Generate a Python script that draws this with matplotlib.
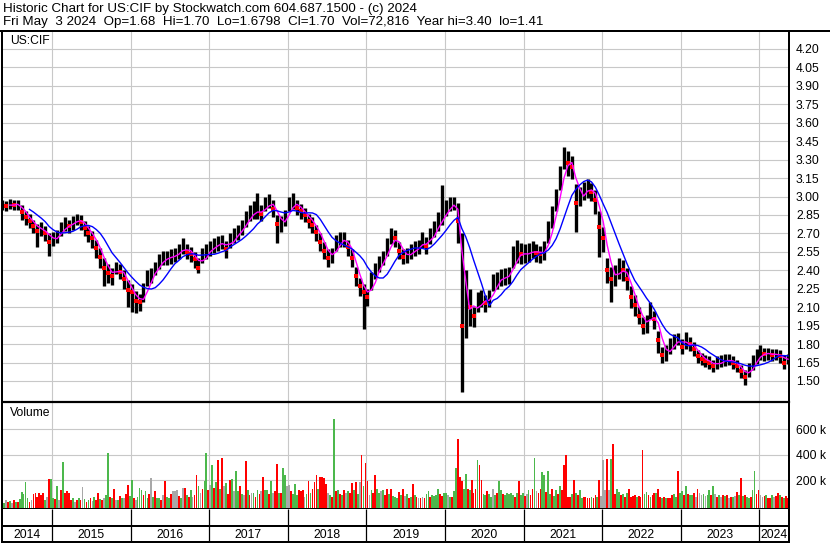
import numpy as np
import pandas as pd
import matplotlib
matplotlib.use("Agg")
import matplotlib.pyplot as plt

# ── canvas / palette ───────────────────────────────────────────────────────────
W, H     = 830, 543
FS       = 8.7
FS_HEAD  = 9.6
GRID_COL = "#c8c8c8"
C_BAR    = "#000000"
C_CLOSE  = "#ff0000"
C_MA_S   = "#ff00ff"
C_MA_L   = "#0000ff"
VOL_COL  = {"r": "#ff0000", "g": "#4cb84c", "n": "#a8a8a8"}

plt.rcParams["font.family"] = ["Liberation Sans", "DejaVu Sans"]

# ── data (semi-monthly price samples, 40 volume bars per year) ───────────────
T0    = 2014.364     # first sample, fractional year
STEP  = 0.05
VSTEP = 0.025
X_LO, X_HI = 2014.364, 2024.377

close = [2.93, 2.92, 2.94, 2.93, 2.94, 2.87, 2.83, 2.80, 2.76, 2.72, 2.74, 2.70, 2.63, 2.66, 2.68, 2.74, 2.77, 2.76, 2.79, 2.83,
         2.79, 2.74, 2.70, 2.66, 2.58, 2.51, 2.42, 2.38, 2.35, 2.43, 2.39, 2.33, 2.24, 2.22, 2.15, 2.14, 2.20, 2.34, 2.36, 2.42,
         2.47, 2.50, 2.50, 2.51, 2.53, 2.55, 2.60, 2.55, 2.53, 2.49, 2.42, 2.52, 2.55, 2.58, 2.60, 2.62, 2.63, 2.57, 2.64, 2.68,
         2.71, 2.75, 2.81, 2.86, 2.88, 2.88, 2.86, 2.94, 2.97, 2.90, 2.78, 2.78, 2.82, 2.94, 2.96, 2.91, 2.88, 2.85, 2.80, 2.77,
         2.71, 2.63, 2.56, 2.50, 2.52, 2.63, 2.65, 2.65, 2.59, 2.50, 2.35, 2.27, 2.22, 2.18, 2.32, 2.40, 2.46, 2.50, 2.59, 2.68,
         2.66, 2.56, 2.51, 2.52, 2.55, 2.58, 2.59, 2.65, 2.60, 2.68, 2.74, 2.80, 2.84, 2.90, 2.94, 2.95, 2.80, 1.95, 2.20, 2.10,
         2.03, 2.15, 2.17, 2.13, 2.17, 2.30, 2.32, 2.34, 2.35, 2.36, 2.50, 2.54, 2.53, 2.53, 2.54, 2.57, 2.54, 2.53, 2.56, 2.72,
         2.83, 2.97, 3.16, 3.32, 3.27, 3.24, 2.95, 3.01, 3.05, 3.07, 3.04, 2.97, 2.75, 2.66, 2.40, 2.33, 2.36, 2.42, 2.40, 2.33,
         2.18, 2.12, 2.03, 1.95, 1.96, 2.08, 2.00, 1.83, 1.71, 1.73, 1.78, 1.82, 1.85, 1.78, 1.82, 1.80, 1.76, 1.70, 1.68, 1.66,
         1.65, 1.62, 1.65, 1.66, 1.67, 1.67, 1.65, 1.62, 1.58, 1.53, 1.59, 1.65, 1.70, 1.73, 1.72, 1.72, 1.71, 1.72, 1.70, 1.65, 1.68]

hi = [2.97, 2.96, 2.98, 2.97, 2.97, 2.93, 2.88, 2.86, 2.81, 2.78, 2.79, 2.76, 2.70, 2.71, 2.73, 2.79, 2.83, 2.81, 2.84, 2.86,
      2.85, 2.80, 2.76, 2.72, 2.65, 2.58, 2.50, 2.45, 2.42, 2.47, 2.45, 2.40, 2.32, 2.29, 2.23, 2.21, 2.30, 2.40, 2.42, 2.47,
      2.53, 2.56, 2.56, 2.57, 2.58, 2.61, 2.66, 2.61, 2.59, 2.55, 2.50, 2.58, 2.61, 2.64, 2.66, 2.68, 2.69, 2.64, 2.70, 2.74,
      2.77, 2.81, 2.88, 2.93, 2.96, 3.03, 2.93, 3.00, 3.02, 2.97, 2.85, 2.84, 2.89, 3.00, 3.03, 2.97, 2.94, 2.91, 2.86, 2.83,
      2.77, 2.70, 2.63, 2.57, 2.58, 2.69, 2.71, 2.71, 2.65, 2.57, 2.43, 2.34, 2.29, 2.25, 2.39, 2.46, 2.52, 2.56, 2.66, 2.74,
      2.73, 2.63, 2.57, 2.58, 2.61, 2.64, 2.65, 2.71, 2.67, 2.74, 2.80, 2.87, 3.09, 2.97, 3.00, 3.00, 2.95, 2.70, 2.40, 2.25,
      2.10, 2.22, 2.24, 2.20, 2.24, 2.37, 2.39, 2.41, 2.42, 2.43, 2.60, 2.65, 2.62, 2.61, 2.62, 2.64, 2.61, 2.60, 2.64, 2.80,
      2.92, 3.06, 3.25, 3.40, 3.37, 3.33, 3.10, 3.08, 3.12, 3.14, 3.11, 3.05, 2.88, 2.75, 2.50, 2.43, 2.44, 2.50, 2.48, 2.42,
      2.27, 2.20, 2.10, 2.02, 2.04, 2.14, 2.07, 1.91, 1.78, 1.79, 1.85, 1.88, 1.89, 1.84, 1.90, 1.86, 1.82, 1.75, 1.73, 1.71,
      1.70, 1.67, 1.70, 1.71, 1.72, 1.72, 1.70, 1.67, 1.63, 1.59, 1.65, 1.71, 1.76, 1.79, 1.77, 1.77, 1.76, 1.76, 1.75, 1.71, 1.72]

lo = [2.89, 2.88, 2.90, 2.89, 2.89, 2.81, 2.77, 2.74, 2.70, 2.59, 2.68, 2.64, 2.52, 2.60, 2.62, 2.68, 2.72, 2.70, 2.73, 2.77,
      2.73, 2.68, 2.63, 2.58, 2.50, 2.42, 2.27, 2.30, 2.28, 2.37, 2.33, 2.25, 2.10, 2.06, 2.05, 2.07, 2.14, 2.27, 2.30, 2.36,
      2.41, 2.44, 2.44, 2.45, 2.47, 2.49, 2.53, 2.49, 2.47, 2.42, 2.38, 2.46, 2.49, 2.52, 2.54, 2.56, 2.57, 2.50, 2.58, 2.62,
      2.65, 2.69, 2.75, 2.80, 2.82, 2.82, 2.80, 2.88, 2.91, 2.83, 2.62, 2.71, 2.76, 2.88, 2.90, 2.85, 2.82, 2.79, 2.74, 2.70,
      2.64, 2.56, 2.49, 2.43, 2.46, 2.56, 2.59, 2.59, 2.52, 2.43, 2.27, 2.19, 1.92, 2.11, 2.24, 2.33, 2.39, 2.44, 2.52, 2.61,
      2.59, 2.49, 2.45, 2.46, 2.49, 2.52, 2.53, 2.58, 2.53, 2.61, 2.67, 2.72, 2.77, 2.84, 2.88, 2.89, 2.62, 1.41, 1.85, 1.95,
      1.94, 2.06, 2.10, 2.06, 2.10, 2.23, 2.25, 2.27, 2.28, 2.29, 2.42, 2.46, 2.45, 2.46, 2.47, 2.50, 2.47, 2.46, 2.48, 2.62,
      2.74, 2.88, 3.05, 3.22, 3.17, 3.14, 2.71, 2.92, 2.97, 2.99, 2.96, 2.86, 2.51, 2.55, 2.30, 2.14, 2.27, 2.33, 2.31, 2.24,
      2.09, 2.03, 1.96, 1.88, 1.89, 2.00, 1.92, 1.73, 1.65, 1.66, 1.72, 1.76, 1.79, 1.72, 1.76, 1.74, 1.70, 1.65, 1.63, 1.61,
      1.60, 1.57, 1.60, 1.61, 1.62, 1.63, 1.60, 1.57, 1.52, 1.47, 1.53, 1.59, 1.64, 1.67, 1.66, 1.67, 1.66, 1.67, 1.65, 1.60, 1.64]

# volume in thousands of shares
vol_k = [30, 20, 45, 25, 35, 20, 40, 30, 25, 50, 105, 90, 185, 60, 30, 40, 90, 95, 70, 100,
         85, 100, 40, 70, 205, 210, 60, 50, 150, 40, 120, 340, 100, 110, 95, 40, 55, 30, 45, 60,
         40, 145, 50, 30, 45, 60, 35, 70, 40, 95, 50, 40, 60, 80, 415, 70, 60, 130, 45, 40,
         75, 60, 55, 90, 160, 75, 200, 55, 40, 70, 140, 120, 80, 110, 60, 90, 215, 70, 110, 60,
         60, 45, 80, 195, 70, 55, 90, 115, 110, 120, 75, 60, 140, 135, 85, 70, 120, 65, 80, 240,
         150, 95, 130, 195, 410, 120, 160, 320, 140, 185, 355, 130, 370, 150, 180, 90, 200, 205, 110, 270,
         110, 150, 90, 80, 350, 120, 85, 100, 95, 70, 125, 90, 110, 225, 120, 120, 90, 190, 100, 110,
         325, 100, 95, 295, 240, 150, 160, 110, 90, 170, 80, 120, 115, 125, 70, 90, 190, 100, 130, 185,
         240, 130, 220, 225, 215, 170, 95, 80, 70, 676, 110, 120, 90, 85, 125, 100, 110, 95, 175, 120,
         185, 90, 185, 400, 150, 330, 190, 85, 125, 100, 240, 130, 95, 110, 120, 80, 130, 90, 130, 75,
         70, 60, 105, 80, 130, 75, 90, 60, 70, 170, 80, 65, 60, 55, 65, 60, 90, 110, 70, 80,
         75, 85, 130, 90, 75, 100, 95, 80, 70, 65, 110, 295, 520, 225, 190, 130, 245, 130, 120, 200,
         95, 130, 355, 315, 200, 90, 85, 110, 90, 70, 130, 80, 100, 195, 120, 90, 85, 95, 90, 100,
         80, 70, 95, 190, 85, 100, 75, 90, 120, 80, 130, 370, 115, 100, 130, 265, 240, 105, 270, 90,
         130, 75, 120, 90, 150, 120, 320, 400, 65, 70, 90, 200, 95, 80, 120, 60, 70, 65, 55, 60,
         70, 55, 80, 65, 200, 75, 355, 120, 365, 120, 365, 480, 90, 130, 105, 80, 90, 70, 95, 130,
         70, 75, 80, 70, 75, 70, 435, 90, 105, 85, 70, 80, 95, 100, 130, 70, 60, 65, 55, 60,
         60, 80, 90, 70, 270, 95, 110, 85, 155, 90, 80, 80, 95, 70, 130, 95, 80, 90, 75, 85,
         125, 80, 155, 90, 70, 85, 70, 80, 75, 85, 60, 70, 65, 75, 105, 80, 215, 75, 85, 70,
         60, 70, 125, 270, 90, 120, 80, 70, 75, 85, 60, 55, 85, 70, 75, 95, 80, 70, 60, 75, 55]

# r = down, g = up, n = unchanged
vol_dir = ("rgnrgnrgrg" "ggggrnrrrr" "rrgnrggrgn" "rgrrrrgnrg"
           "rngrgrngrr" "grnggrgrng" "rgnrrggrng" "ggrggrngrg"
           "grnrggrnnn" "rgnrgrgnrr" "gnrggrngrg" "rgrngrrgng"
           "grgnrgrngr" "grnrggrgnr" "rgrggnnrgg" "grrrngrgrr"
           "rgrrrrngrg" "rgrgrngrrg" "rgnrgrrngr" "rggngrrgrg"
           "ggrgrngrgr" "grnrnrggrg" "gggrrggngr" "ggrrrggrgr"
           "rrgrrggrgg" "ngrggrgggg" "grgrggrngr" "rgnrrggrgg"
           "rggrgrrrrr" "grgrggrrrr" "grrgrnnnrn" "grrggrgrgr"
           "rrrgrrrggr" "grrgrrgrgr" "rrggrggrgr" "ggrnrnngng"
           "grgnrgnrgr" "nrgnrgrgrg" "grggrrnnrg" "rrgnrrgrgrr")

years        = list(range(2014, 2025))
year_bounds  = list(range(2015, 2025))
price_ticks  = [1.50, 1.65, 1.80, 1.95, 2.10, 2.25, 2.40, 2.55, 2.70, 2.85,
                3.00, 3.15, 3.30, 3.45, 3.60, 3.75, 3.90, 4.05, 4.20]
vol_ticks    = [200, 400, 600]

title_1 = "Historic Chart for US:CIF by Stockwatch.com 604.687.1500 - (c) 2024"
title_2 = ("Fri May  3 2024  Op=1.68  Hi=1.70  Lo=1.6798  Cl=1.70  "
           "Vol=72,816  Year hi=3.40  lo=1.41")


# ── helpers ────────────────────────────────────────────────────────────────────
def px_axes(fig, left, top, right, bottom):
    return fig.add_axes([left / W, 1 - bottom / H, (right - left) / W, (bottom - top) / H])


def frame(ax, top=1.0, bottom=1.0, left=2.0, right=2.0):
    for side, lw in (("top", top), ("bottom", bottom), ("left", left), ("right", right)):
        ax.spines[side].set_linewidth(lw * 0.72)
        ax.spines[side].set_color("black")


# ── figure ─────────────────────────────────────────────────────────────────────
fig = plt.figure(figsize=(W / 100, H / 100), dpi=100, facecolor="white")

t  = T0 + STEP * np.arange(len(close))
tv = T0 + VSTEP * np.arange(len(vol_k))
cs = pd.Series(close)
ma_short = cs.rolling(3).mean()
ma_long  = cs.rolling(8).mean()

# price panel
ax_p = px_axes(fig, 2, 31, 789, 401)
ax_p.set_xlim(X_LO, X_HI)
ax_p.set_ylim(1.337, 4.346)
ax_p.set_xticks(year_bounds)
ax_p.set_xticklabels([])
ax_p.set_yticks(price_ticks)
ax_p.set_yticklabels([f"{v:.2f}" for v in price_ticks])
ax_p.yaxis.tick_right()
ax_p.tick_params(axis="y", length=0, pad=5, labelsize=FS)
ax_p.tick_params(axis="x", length=0)
ax_p.grid(True, color=GRID_COL, linewidth=0.8)
ax_p.set_axisbelow(True)
frame(ax_p, top=2, bottom=1.2)

ax_p.vlines(t, lo, hi, color=C_BAR, linewidth=2.4, zorder=2)
down = [i for i in range(1, len(close)) if close[i] < close[i - 1]]
ax_p.plot(t[down], np.asarray(close)[down], "s", color=C_CLOSE,
          markersize=2.2, markeredgewidth=0, zorder=3)
ax_p.plot(t, ma_short, color=C_MA_S, linewidth=1.0, zorder=4)
ax_p.plot(t, ma_long, color=C_MA_L, linewidth=1.0, zorder=5)
ax_p.text(8 / 787, 1 - 10 / 370, "US:CIF", transform=ax_p.transAxes,
          fontsize=FS, va="center", ha="left")

# volume panel
ax_v = px_axes(fig, 2, 402, 789, 509)
ax_v.set_xlim(X_LO, X_HI)
v_lo, v_hi = -27.5, 812
ax_v.set_ylim(v_lo, v_hi)
ax_v.set_xticks(year_bounds)
ax_v.set_xticklabels([])
ax_v.set_yticks(vol_ticks)
ax_v.set_yticklabels([f"{v} k" for v in vol_ticks])
ax_v.yaxis.tick_right()
ax_v.tick_params(axis="y", length=0, pad=5, labelsize=FS)
ax_v.tick_params(axis="x", length=0)
ax_v.grid(True, color=GRID_COL, linewidth=0.8)
ax_v.set_axisbelow(True)
frame(ax_v, top=1.2, bottom=2)

vcols = [VOL_COL[c] for c in vol_dir]
ax_v.bar(tv, np.asarray(vol_k) - v_lo, bottom=v_lo, width=VSTEP * 0.9,
         color=vcols, linewidth=0, zorder=2)
ax_v.text(8 / 787, 1 - 11 / 107, "Volume", transform=ax_v.transAxes,
          fontsize=FS, va="center", ha="left")

# tick strip + year labels
ax_s = px_axes(fig, 2, 509, 789, 526)
ax_y = px_axes(fig, 2, 526, 789, 542)
for a in (ax_s, ax_y):
    a.set_xlim(X_LO, X_HI)
    a.set_ylim(0, 1)
    a.set_xticks([])
    a.set_yticks([])
    a.vlines(year_bounds, 0, 1, color="black", linewidth=0.9)
    frame(a, top=0, bottom=2)
ax_y.spines["top"].set_linewidth(1.44)

for y in years:
    a0, a1 = max(y, X_LO), min(y + 1, X_HI)
    ax_y.text((a0 + a1) / 2, 0.45, str(y), fontsize=FS, ha="center", va="center")

# header + rule under it across the full width
fig.text(3 / W, 1 - 9 / H, title_1, fontsize=FS_HEAD, ha="left", va="center")
fig.text(3 / W, 1 - 22 / H, title_2, fontsize=FS_HEAD, ha="left", va="center")
fig.add_artist(plt.Line2D([0, 1], [1 - 31 / H, 1 - 31 / H], color="black",
                          linewidth=1.44, transform=fig.transFigure))

fig.savefig("out.png", dpi=100, facecolor="white")
